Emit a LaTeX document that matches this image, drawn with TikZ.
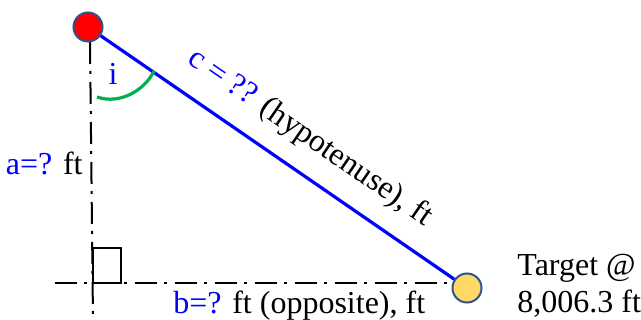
\documentclass[tikz,border=0pt]{standalone}
\usepackage{fontspec}
\setmainfont{LiberationSerif}[Extension=.ttf, UprightFont=*-Regular]
\definecolor{rim}{RGB}{47,82,143}
\definecolor{arcgreen}{RGB}{0,176,80}
\definecolor{gold}{RGB}{255,217,102}
\tikzset{
  dashdot line/.style={line width=1pt, dash pattern=on 11pt off 3.5pt on 1.5pt off 4pt},
  ball/.style={circle, draw=rim, line width=1pt, minimum size=14.5pt, inner sep=0pt},
  lbl/.style={font=\fontsize{16}{19}\selectfont, inner sep=0pt, text=black}
}
\begin{document}
\begin{tikzpicture}[x=0.5pt,y=-0.5pt]
  \useasboundingbox (0,0) rectangle (641,320);
  \coordinate (vtop) at (90,42);
  \coordinate (vbot) at (93,320);
  \coordinate (hleft) at (55,283);
  \coordinate (hright) at (455,283);
  \draw[dashdot line] (vtop) -- (vbot);
  \draw[dashdot line] (hleft) -- (hright);
  \draw[line width=1pt] (93,248) rectangle (121,283);
  \node[ball, fill=red] (observer) at (88,27) {};
  \node[ball, fill=gold] (target) at (467,288) {};
  \draw[blue, line width=1.6pt] (observer) -- (target)
    node[lbl, pos=0.537, sloped, above=9pt] (hyp) {\textcolor{blue}{c = ??} (hypotenuse), ft};
  \draw[arcgreen, line width=1.6pt] (97,97) .. controls (120,105) and (145,90) .. (154,71);
  \node[lbl, text=blue] (ilbl) at (113,74) {i};
  \node[lbl, anchor=base east] (alabel) at (83,175) {\textcolor{blue}{a=?} ft};
  \node[lbl, anchor=base west] (blabel) at (173,313) {\textcolor{blue}{b=?} ft (opposite), ft};
  \node[lbl, anchor=base west] (tgt1) at (517,275) {Target @};
  \node[lbl, anchor=base west] (tgt2) at (517,312) {8,006.3 ft};
\end{tikzpicture}
\end{document}
